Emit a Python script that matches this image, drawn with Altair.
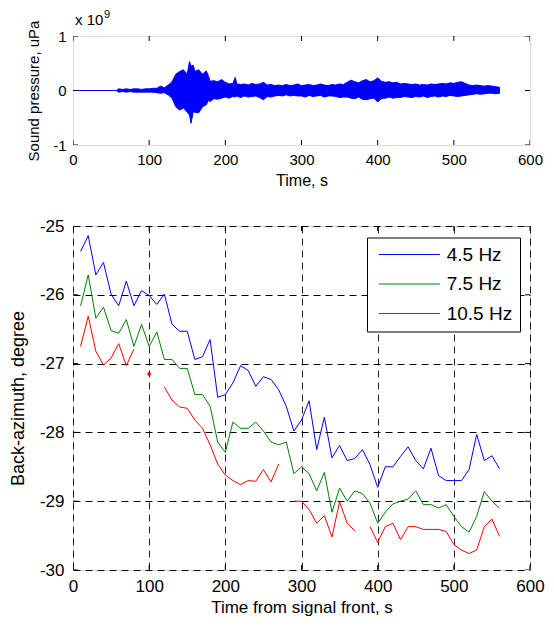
import altair as alt
import pandas as pd

FONT = "Liberation Sans"

# ---------------- Top panel: sound pressure envelope (units of 1e9 uPa) -------------
env_t = [0, 57, 60, 65, 70, 75, 80, 85, 90, 95, 100, 105, 110, 115, 120, 125, 130,
         135, 140, 145, 150, 153, 155, 158, 160, 165, 170, 175, 178, 180, 185, 190,
         195, 200, 205, 210, 213, 215, 220, 225, 230, 235, 240, 245, 250, 255, 260,
         265, 270, 275, 280, 285, 290, 295, 300, 305, 310, 315, 320, 325, 330, 335,
         340, 345, 350, 355, 360, 365, 370, 375, 380, 385, 390, 395, 400, 405, 410,
         415, 420, 425, 430, 435, 440, 445, 450, 455, 460, 465, 470, 475, 480, 485,
         490, 495, 500, 505, 510, 515, 520, 525, 530, 535, 540, 545, 550, 555, 560]
env_hi = [0, 0, 0.03, 0.02, 0.03, 0.02, 0.03, 0.03, 0.02, 0.03, 0.03, 0.04, 0.04,
          0.08, 0.05, 0.10, 0.16, 0.30, 0.35, 0.38, 0.30, 0.53, 0.45, 0.46, 0.35,
          0.38, 0.30, 0.36, 0.26, 0.17, 0.18, 0.16, 0.20, 0.15, 0.12, 0.13, 0.24,
          0.12, 0.11, 0.12, 0.10, 0.13, 0.11, 0.12, 0.15, 0.10, 0.11, 0.09, 0.10,
          0.09, 0.11, 0.09, 0.10, 0.12, 0.09, 0.10, 0.11, 0.09, 0.10, 0.12, 0.10,
          0.09, 0.11, 0.10, 0.12, 0.11, 0.15, 0.19, 0.16, 0.14, 0.18, 0.20, 0.16,
          0.18, 0.23, 0.17, 0.15, 0.16, 0.14, 0.15, 0.12, 0.13, 0.12, 0.11, 0.12,
          0.10, 0.11, 0.10, 0.12, 0.11, 0.12, 0.13, 0.12, 0.14, 0.13, 0.15, 0.16,
          0.13, 0.10, 0.09, 0.10, 0.09, 0.08, 0.09, 0.08, 0.07, 0.06]
env_lo = [0, 0, -0.03, -0.02, -0.03, -0.02, -0.03, -0.03, -0.03, -0.03, -0.03, -0.03,
          -0.04, -0.05, -0.04, -0.08, -0.14, -0.30, -0.36, -0.32, -0.40, -0.45, -0.60,
          -0.38, -0.40, -0.41, -0.30, -0.26, -0.18, -0.20, -0.15, -0.16, -0.14, -0.12,
          -0.14, -0.11, -0.12, -0.10, -0.13, -0.10, -0.12, -0.11, -0.10, -0.13, -0.17,
          -0.11, -0.12, -0.10, -0.09, -0.10, -0.08, -0.10, -0.09, -0.10, -0.10, -0.12,
          -0.09, -0.11, -0.10, -0.09, -0.12, -0.10, -0.10, -0.11, -0.13, -0.12, -0.12,
          -0.14, -0.15, -0.12, -0.16, -0.17, -0.15, -0.14, -0.21, -0.15, -0.14, -0.12,
          -0.14, -0.13, -0.13, -0.11, -0.12, -0.13, -0.11, -0.12, -0.10, -0.13, -0.11,
          -0.10, -0.12, -0.10, -0.11, -0.09, -0.10, -0.11, -0.10, -0.09, -0.08, -0.07,
          -0.06, -0.07, -0.06, -0.05, -0.05, -0.06, -0.05]

# ---------------- Bottom panel: back-azimuth -----------------------------------------
times = list(range(10, 561, 10))
series_names = ["4.5 Hz", "7.5 Hz", "10.5 Hz"]
series_colors = ["#0000ff", "#008000", "#ff0000"]

az_45 = [-25.37, -25.14, -25.71, -25.53, -25.99, -26.16, -25.80, -26.16, -25.94, -26.01,
         -26.14, -25.99, -26.43, -26.53, -26.53, -26.94, -26.90, -26.65, -27.49, -27.45,
         -27.28, -27.03, -27.10, -27.33, -27.19, -27.23, -27.38, -27.62, -27.98, -27.82,
         -27.54, -28.25, -27.78, -28.37, -28.19, -28.41, -28.38, -28.25, -28.47, -28.80,
         -28.50, -28.50, -28.35, -28.21, -28.41, -28.53, -28.23, -28.63, -28.70, -28.70,
         -28.70, -28.54, -28.03, -28.41, -28.34, -28.53]
az_75 = [-26.16, -25.71, -26.34, -26.18, -26.52, -26.56, -26.36, -26.75, -26.43, -26.75,
         -26.54, -26.94, -26.94, -27.07, -27.07, -27.45, -27.45, -27.62, -28.14, -28.29,
         -27.85, -27.94, -27.94, -27.85, -27.98, -28.14, -28.18, -28.14, -28.60, -28.50,
         -28.60, -28.85, -28.58, -29.16, -28.81, -29.00, -28.85, -28.89, -29.03, -29.32,
         -29.16, -29.04, -29.00, -28.97, -28.85, -29.05, -29.05, -29.10, -29.05, -29.22,
         -29.37, -29.45, -29.22, -28.86, -29.00, -29.10]
az_105 = [-26.75, -26.31, -26.82, -27.02, -26.92, -26.71, -27.03, -26.79, None, -27.15,
          None, -27.34, -27.53, -27.63, -27.65, -27.82, -27.94, -28.18, -28.46, -28.62,
          -28.70, -28.76, -28.70, -28.71, -28.54, -28.72, -28.46, None, -29.00, -29.00,
          -29.12, -29.32, -29.21, -29.52, -29.01, -29.32, -29.43, None, -29.37, -29.60,
          -29.37, -29.32, -29.56, -29.37, -29.37, -29.41, -29.41, -29.41, -29.44, -29.63,
          -29.71, -29.76, -29.71, -29.37, -29.26, -29.51]

# tick values
x_vals = [0, 100, 200, 300, 400, 500, 600]
y_top_vals = [-1, 0, 1]
y_bot_vals = [-30, -29, -28, -27, -26, -25]

# build long tables, splitting each series into continuous runs
line_rows, dot_rows = [], []
for name, vals in zip(series_names, [az_45, az_75, az_105]):
    seg, run = 0, []
    for t, v in list(zip(times, vals)) + [(None, None)]:
        if v is None:
            if len(run) == 1:
                dot_rows.append({"t": run[0][0], "v": run[0][1], "series": name})
            elif len(run) > 1:
                for tt, vv in run:
                    line_rows.append({"t": tt, "v": vv, "series": name, "seg": f"{name}-{seg}"})
            run = []
            seg += 1
        else:
            run.append((t, v))
line_df = pd.DataFrame(line_rows)
dot_df = pd.DataFrame(dot_rows)
top_df = pd.DataFrame({"t": env_t, "hi": env_hi, "lo": env_lo})

W = 457
H_TOP = 109
H_BOT = 344
GAP = 81


def inner_ticks(xscale, yscale, yvals, w, h):
    """MATLAB-style inward ticks drawn as clipped tick marks at the axis tick values."""
    xdf = pd.DataFrame({"tv": x_vals})
    ydf = pd.DataFrame({"tv": yvals})
    kw = dict(size=10, thickness=1, color="black", clip=True, opacity=1)
    out = []
    for yp in (0, h):
        out.append(alt.Chart(xdf).mark_tick(orient="vertical", **kw).encode(
            x=alt.X("tv:Q", scale=xscale, axis=None), y=alt.value(yp)))
    for xp in (0, w):
        out.append(alt.Chart(ydf).mark_tick(orient="horizontal", **kw).encode(
            y=alt.Y("tv:Q", scale=yscale, axis=None), x=alt.value(xp)))
    return out


# ---------- top chart
xs_top = alt.Scale(domain=[0, 600], nice=False, zero=False)
ys_top = alt.Scale(domain=[-1, 1], nice=False)
area = alt.Chart(top_df).mark_area(color="#0000ff", stroke="#0000ff", strokeWidth=1, opacity=1).encode(
    x=alt.X("t:Q", scale=xs_top, axis=alt.Axis(
        values=x_vals, title="Time, s", ticks=False, tickSize=0, domain=False, grid=False,
        labelFontSize=15, titleFontSize=16, titleFontWeight="normal", labelPadding=7,
        titlePadding=5, labelFlush=False, labelExpr="datum.value + ''")),
    y=alt.Y("hi:Q", scale=ys_top, axis=alt.Axis(
        values=y_top_vals, title="Sound pressure, uPa", ticks=False, tickSize=0, domain=False,
        grid=False, labelFontSize=15, titleFontSize=15, titleFontWeight="normal",
        labelPadding=7, titlePadding=11, labelFlush=False, labelExpr="datum.value + ''")),
    y2="lo:Q",
)
note1 = alt.Chart(pd.DataFrame({"txt": ["x 10"]})).mark_text(
    align="left", baseline="alphabetic", fontSize=15, font=FONT, color="black"
).encode(text="txt:N", x=alt.value(2), y=alt.value(-11))
note2 = alt.Chart(pd.DataFrame({"txt": ["9"]})).mark_text(
    align="left", baseline="alphabetic", fontSize=11, font=FONT, color="black"
).encode(text="txt:N", x=alt.value(31), y=alt.value(-18))

top = alt.layer(
    area, note1, note2, *inner_ticks(xs_top, ys_top, y_top_vals, W, H_TOP)
).resolve_axis(x="independent", y="independent").properties(width=W, height=H_TOP)

# ---------- bottom chart
xs_bot = alt.Scale(domain=[0, 600], nice=False, zero=False)
ys_bot = alt.Scale(domain=[-30, -25], nice=False, zero=False)

lines = alt.Chart(line_df).mark_line(strokeWidth=1).encode(
    x=alt.X("t:Q", scale=xs_bot, axis=alt.Axis(
        values=x_vals, title="Time from signal front, s", ticks=False, tickSize=0, domain=False,
        grid=True, gridDash=[7, 5], gridColor="#222222", gridWidth=1,
        labelFontSize=17, titleFontSize=17, titleFontWeight="normal", labelPadding=8,
        titlePadding=5, labelFlush=False, labelExpr="datum.value + ''")),
    y=alt.Y("v:Q", scale=ys_bot, axis=alt.Axis(
        values=y_bot_vals, title="Back-azimuth, degree", ticks=False, tickSize=0, domain=False,
        grid=True, gridDash=[7, 5], gridColor="#000000", gridWidth=1,
        labelFontSize=17, titleFontSize=18, titleFontWeight="normal", labelPadding=9,
        titlePadding=12, labelFlush=False, labelExpr="datum.value + ''")),
    color=alt.Color("series:N", scale=alt.Scale(domain=series_names, range=series_colors),
                    legend=alt.Legend(
                        title=None, orient="none", legendX=294, legendY=H_TOP + GAP + 11.5,
                        direction="vertical",
                        symbolType="M-6,0L6,0", symbolSize=103.4, symbolStrokeWidth=1,
                        labelFontSize=19, labelFont=FONT, labelColor="black", labelLimit=0,
                        padding=7.5, rowPadding=9.5, labelOffset=27.85, symbolOffset=25.35,
                        fillColor="white", strokeColor="black", cornerRadius=0)),
    detail="seg:N",
    order="t:Q",
)
dots = alt.Chart(dot_df).mark_point(filled=True, size=14, opacity=1, color="#ff0000").encode(
    x=alt.X("t:Q", scale=xs_bot, axis=None), y=alt.Y("v:Q", scale=ys_bot, axis=None))

bottom = alt.layer(
    lines, dots, *inner_ticks(xs_bot, ys_bot, y_bot_vals, W, H_BOT)
).resolve_axis(x="independent", y="independent").properties(width=W, height=H_BOT)

chart = alt.vconcat(top, bottom, spacing=GAP, bounds="flush").properties(
    padding={"left": 0, "top": 0, "right": 0, "bottom": 0}
).configure_view(stroke="black", strokeWidth=1).configure_axis(
    labelFont=FONT, titleFont=FONT, labelColor="black", titleColor="black",
    titleFontWeight="normal"
).configure(background="white")

chart.save("out.html", embed_options={"renderer": "svg", "actions": False})
